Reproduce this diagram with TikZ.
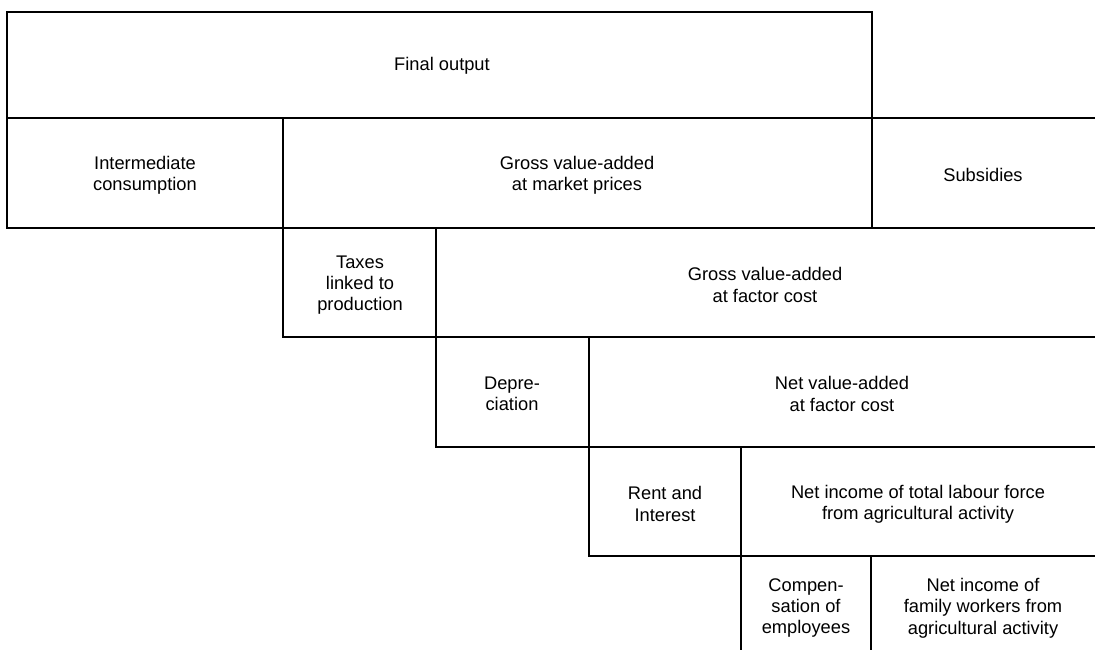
\documentclass[tikz,border=0pt]{standalone}
\usepackage{fontspec}
\setmainfont{Liberation Sans}

\begin{document}
\begin{tikzpicture}[x=0.025cm, y=-0.025cm, line width=1.2pt,
  every node/.style={font=\fontsize{13}{15.2}\selectfont, align=center, inner sep=0pt}]
\useasboundingbox (0,0) rectangle (1095,650);
% cell borders
\draw (7,12) rectangle (872,118);
\draw (872,118) -- (1095,118);
\draw (7,118) -- (7,228) -- (1095,228);
\draw (872,118) -- (872,228);
\draw (283,118) -- (283,337) -- (1095,337);
\draw (436,228) -- (436,447) -- (1095,447);
\draw (589,337) -- (589,556) -- (1095,556);
\draw (741,447) -- (741,650);
\draw (871,556) -- (871,650);
% cell texts
\node (final)    at (442,66)  {Final output};
\node (interm)   at (145,175) {Intermediate\\consumption};
\node (gvamp)    at (577,175) {Gross value-added\\at market prices};
\node (subsid)   at (983,175) {Subsidies};
\node (taxes)    at (360,285) {Taxes\\linked to\\production};
\node (gvafc)    at (765,285) {Gross value-added\\at factor cost};
\node (deprec)   at (512,394) {Depre-\\ciation};
\node (nvafc)    at (842,394) {Net value-added\\at factor cost};
\node (rent)     at (665,504) {Rent and\\Interest};
\node (nilabour) at (918,504) {Net income of total labour force\\from agricultural activity};
\node (compemp)  at (806,608) {Compen-\\sation of\\employees};
\node (nifamily) at (983,608) {Net income of\\family workers from\\agricultural activity};
\end{tikzpicture}
\end{document}
